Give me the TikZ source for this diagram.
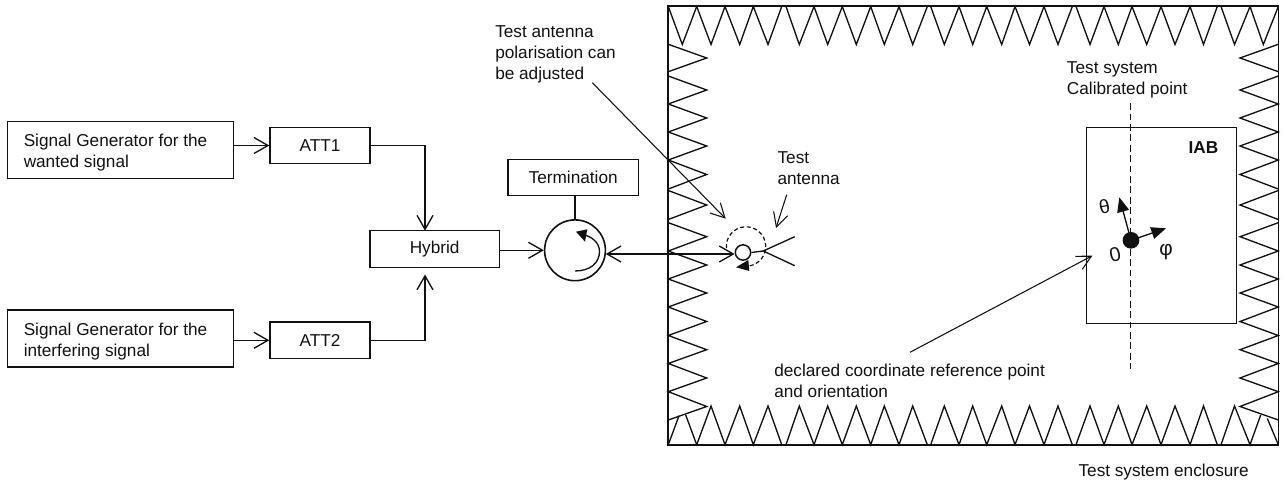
\documentclass[tikz,border=0pt]{standalone}
\usepackage{fontspec}
\setmainfont{Liberation Sans}
\usetikzlibrary{arrows.meta}
\definecolor{ink}{HTML}{111111}
\tikzset{
  x=0.75pt,y=-0.75pt,
  every node/.style={text=ink},
  lbl/.style={inner sep=0pt,anchor=base west,font=\fontsize{12.9}{15.75}\selectfont,align=left},
  boxed/.style={draw=ink,line width=1.05pt,inner sep=0pt,font=\fontsize{12.9}{15.75}\selectfont},
  conn/.style={draw=ink,line width=1pt},
  barb/.style={conn,-{Straight Barb[length=10.5pt,width=12pt,line width=1pt]}},
  barbb/.style={conn,{Straight Barb[length=10.5pt,width=12pt,line width=1pt]}-{Straight Barb[length=10.5pt,width=12pt,line width=1pt]}},
  thinbarb/.style={draw=ink,line width=0.8pt,-{Straight Barb[length=10.5pt,width=11pt,line width=0.8pt]}},
  solidhead/.style={draw=ink,line width=1pt,-{Triangle[length=11pt,width=9pt]}},
  tooth/.style={draw=ink,line width=1pt,line join=miter},
  dashline/.style={draw=ink,line width=1.05pt,dash pattern=on 5pt off 2.8pt},
}
\begin{document}
\begin{tikzpicture}
\useasboundingbox (0,0) rectangle (1284,484);
% boxes
\node[boxed,minimum width=169.5pt,minimum height=43pt] (sgone) at (120.7,150) {};
\node[lbl] at (23.5,167.3) {Signal Generator for the\\wanted signal};
\node[boxed,minimum width=169.5pt,minimum height=43pt] (sgtwo) at (120.7,338.5) {};
\node[lbl] at (23.5,356) {Signal Generator for the\\interfering signal};
\node[boxed,minimum width=75pt,minimum height=27.3pt] (attone) at (320,145.5) {ATT1};
\node[boxed,minimum width=75pt,minimum height=27.3pt] (atttwo) at (320,340.3) {ATT2};
\node[boxed,minimum width=97pt,minimum height=27.4pt] (hybrid) at (434.6,249) {Hybrid};
\node[boxed,minimum width=97.7pt,minimum height=27pt] (term) at (573.2,177.7) {Termination};
\node[draw=ink,line width=1.2pt,circle,minimum size=45.6pt,inner sep=0pt] (circ) at (575,250.3) {};
\node[draw=ink,line width=1.1pt,circle,minimum size=11.5pt,inner sep=0pt] (small) at (743,252.5) {};
% enclosure
\node[draw=ink,line width=1.3pt,minimum width=457.9pt,minimum height=329pt,inner sep=0pt] (encl) at (973.2,225.7) {};
% top and bottom absorber teeth
\draw[tooth] (668.3,6.5) -- (682.3,44.5) -- (696.7,6.5);
\foreach \ya/\yb in {6.5/44.5,444.7/406}{
  \draw[tooth] (696.7,\ya) -- (711,\yb) -- (725,\ya) -- (739.7,\yb) -- (753.3,\ya) -- (768,\yb) -- (781.7,\ya);
  \draw[tooth] (786,\ya) -- (799.3,\yb) -- (814,\ya) -- (827.7,\yb) -- (842.3,\ya) -- (856.3,\yb) -- (870.7,\ya) -- (884.3,\yb) -- (899,\ya) -- (912.7,\yb) -- (927.3,\ya);
  \draw[tooth] (930.7,\ya) -- (944.3,\yb) -- (959,\ya) -- (972.7,\yb) -- (986.7,\ya) -- (1001.7,\yb) -- (1015,\ya) -- (1029.5,\yb) -- (1044,\ya) -- (1058,\yb) -- (1072.3,\ya);
  \draw[tooth] (1076,\ya) -- (1090,\yb) -- (1104,\ya) -- (1118.3,\yb) -- (1132,\ya) -- (1146.7,\yb) -- (1161,\ya) -- (1175,\yb) -- (1190,\ya) -- (1203.5,\yb) -- (1217.3,\ya);
}
\draw[tooth] (1221,6.5) -- (1234.5,44.5) -- (1250,6.5) -- (1263.3,44.5) -- (1278.3,6.5);
\draw[tooth] (1221,444.7) -- (1234.5,406) -- (1250,444.7) -- (1260.7,415);
\draw[tooth] (1267.3,418.5) -- (1278.3,444.7);
\draw[tooth] (668.3,444.7) -- (679,415.7);
\draw[tooth] (685.7,415) -- (696.7,444.7);
% side absorber teeth
\foreach \xa/\xb in {668.3/706.7,1278.3/1240}{
  \draw[tooth] (\xa,44.3) -- (\xb,58) -- (\xa,71.7);
  \draw[tooth] (\xa,76) -- (\xb,90) -- (\xa,104) -- (\xb,118) -- (\xa,132) -- (\xb,146) -- (\xa,160) -- (\xb,174.5) -- (\xa,189);
  \draw[tooth] (\xa,190.5) -- (\xb,205) -- (\xa,219.5);
  \draw[tooth] (\xa,222.7) -- (\xb,236.7) -- (\xa,251) -- (\xb,265) -- (\xa,279) -- (\xb,293) -- (\xa,307) -- (\xb,321.5) -- (\xa,335.5) -- (\xb,349.7) -- (\xa,363.5) -- (\xb,378) -- (\xa,391.7) -- (\xb,406.5) -- (\xa,420);
}
% left-hand connectors
\draw[barb] (sgone.east |- attone.west) -- (attone.west);
\draw[barb] (sgtwo.east |- atttwo.west) -- (atttwo.west);
\coordinate (hybtop) at (425,230.7);
\coordinate (hybbot) at (425,274.5);
\draw[barb] (attone.east) -| (hybtop);
\draw[barb] (atttwo.east) -| (hybbot);
\draw[barb] (hybrid.east |- circ.west) -- (circ.west);
\draw[conn] (term.south -| circ.north) -- (circ.north);
\coordinate (circport) at (605.7,254);
\draw[barbb] (circport) -- (small.west |- circport);
% circulator inner arrow
\coordinate (cs) at (575,271);
\draw[draw=ink,line width=1pt] (cs) .. controls (590,271) and (599.5,263) .. (599.5,251.5) .. controls (599.5,244) and (594,238) .. (585,235);
\fill[ink] (576,231.7) -- (587.3,229.3) -- (585,241.7) -- cycle;
% antenna
\coordinate (ant) at (763.3,251);
\coordinate (anta) at (794.7,236.7);
\coordinate (antb) at (794.7,265.7);
\draw[conn] (small.east) -- (ant);
\draw[conn] (anta) -- (ant) -- (antb);
\draw[draw=ink,line width=0.9pt,dash pattern=on 3pt off 2pt] (726.4,248.2) arc[start angle=175,end angle=440,radius=19.7];
\fill[ink] (736,267.3) -- (748.3,260) -- (749.3,271) -- cycle;
% IAB
\node[draw=ink,line width=1.05pt,minimum width=112.5pt,minimum height=147pt,inner sep=0pt] (iab) at (1161.7,225.3) {};
\node[lbl,font=\fontsize{12.9}{15.75}\selectfont\bfseries] at (1188.3,154) {IAB};
\coordinate (calt) at (1130.3,103.3);
\coordinate (calb) at (1130.3,369.3);
\draw[dashline] (calt) -- (calb);
\node[fill=ink,circle,minimum size=12.5pt,inner sep=0pt] (dot) at (1131,240.3) {};
\coordinate (thtip) at (1119.3,197.3);
\coordinate (phtip) at (1166,228.3);
\draw[solidhead] (dot.center) -- (thtip);
\draw[solidhead] (dot.center) -- (phtip);
\node[inner sep=0pt,font=\fontsize{14.5}{16}\selectfont,rotate=12] at (1104.5,206.5) {θ};
\node[inner sep=0pt,font=\fontsize{15.5}{16}\selectfont] at (1166,252) {φ};
\node[inner sep=0pt,font=\fontsize{15}{16}\selectfont,rotate=12] at (1115,255) {0};
% labels
\node[lbl] (poltext) at (495,79.3) {Test antenna\\polarisation can\\be adjusted};
\coordinate (polfrom) at (592.3,82.7);
\coordinate (poltip) at (725.7,218.7);
\draw[thinbarb] (polfrom) -- (poltip);
\node[lbl] at (777.3,185) {Test\\antenna};
\coordinate (tafrom) at (786.7,194.7);
\coordinate (tatip) at (776,228);
\draw[thinbarb] (tafrom) -- (tatip);
\node[lbl] at (1066.7,94.3) {Test system\\Calibrated point};
\node[lbl] at (774,397.7) {declared coordinate reference point\\and orientation};
\coordinate (declfrom) at (910,352.3);
\coordinate (decltip) at (1092.3,255.7);
\draw[thinbarb] (declfrom) -- (decltip);
\node[lbl] at (1078.3,476) {Test system enclosure};
\end{tikzpicture}
\end{document}
